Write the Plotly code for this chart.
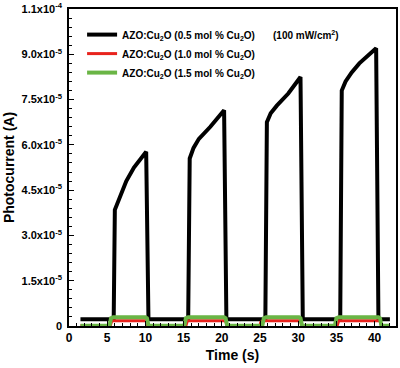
import plotly.graph_objects as go

# ---- data ----
t_05 = [1.5, 5.85, 6.0, 6.3, 6.8, 7.5, 8.5, 10.1, 10.4, 15.6, 15.8, 16.3, 17.0, 18.5, 20.3, 20.6,
        25.7, 25.9, 26.4, 27.2, 28.7, 30.3, 30.6, 35.5, 35.7, 36.2, 37.0, 38.0, 40.2, 40.5, 42.0]
i_05 = [0.22, 0.22, 3.85, 4.05, 4.35, 4.8, 5.25, 5.77, 0.22, 0.22, 5.55, 5.9, 6.2, 6.6, 7.15, 0.22,
        0.22, 6.75, 7.05, 7.3, 7.7, 8.25, 0.22, 0.22, 7.8, 8.1, 8.4, 8.7, 9.2, 0.22, 0.22]
i_05 = [v * 1e-5 for v in i_05]

t_10 = [1.5, 5.4, 5.6, 10.1, 10.3, 15.3, 15.5, 20.5, 20.7, 25.0, 25.1, 25.5, 30.3, 30.5, 35.1, 35.3,
        40.7, 40.9, 42.0]
i_10 = [0.1, 0.1, 1.7, 1.7, 0.1, 0.1, 1.7, 1.7, 0.1, 0.1, 1.2, 1.7, 1.7, 0.1, 0.1, 1.7,
        1.7, 0.1, 0.1]
i_10 = [v * 1e-6 for v in i_10]

t_15 = [1.5, 5.3, 5.5, 5.8, 10.0, 10.2, 10.4, 15.1, 15.3, 15.6, 20.3, 20.5, 20.7, 25.3, 25.5, 25.8,
        30.1, 30.3, 30.5, 34.8, 35.0, 35.3, 40.5, 40.7, 40.9, 42.0]
i_15 = [0.1, 0.1, 2.6, 2.9, 2.9, 2.6, 0.1, 0.1, 2.6, 2.9, 2.9, 2.6, 0.1, 0.1, 2.6, 2.9,
        2.9, 2.6, 0.1, 0.1, 2.6, 2.9, 2.9, 2.6, 0.1, 0.1]
i_15 = [v * 1e-6 for v in i_15]

y_tickvals = [0, 1.5e-5, 3.0e-5, 4.5e-5, 6.0e-5, 7.5e-5, 9.0e-5, 1.05e-4]
y_ticktext = ["0", "1.5x10<sup>-5</sup>", "3.0x10<sup>-5</sup>", "4.5x10<sup>-5</sup>",
              "6.0x10<sup>-5</sup>", "7.5x10<sup>-5</sup>", "9.0x10<sup>-5</sup>", "1.1x10<sup>-4</sup>"]
x_tickvals = [0, 5, 10, 15, 20, 25, 30, 35, 40]

names = ["AZO:Cu<sub>2</sub>O (0.5 mol % Cu<sub>2</sub>O)",
         "AZO:Cu<sub>2</sub>O (1.0 mol % Cu<sub>2</sub>O)",
         "AZO:Cu<sub>2</sub>O (1.5 mol % Cu<sub>2</sub>O)"]

FONT = "Arial, Liberation Sans, sans-serif"

fig = go.Figure()
fig.add_trace(go.Scatter(x=t_05, y=i_05, mode="lines", name=names[0],
                         line=dict(color="#000000", width=4)))
fig.add_trace(go.Scatter(x=t_10, y=i_10, mode="lines", name=names[1],
                         line=dict(color="#e8231d", width=3)))
fig.add_trace(go.Scatter(x=t_15, y=i_15, mode="lines", name=names[2],
                         line=dict(color="#6ab545", width=4)))

fig.add_annotation(x=31.0, y=9.64e-5, xref="x", yref="y", text="<b>(100 mW/cm<sup>2</sup>)</b>",
                   showarrow=False, font=dict(family=FONT, size=10, color="#000"))

fig.update_layout(
    width=400, height=368,
    margin=dict(l=69, r=4, t=9, b=42),
    paper_bgcolor="white", plot_bgcolor="white",
    font=dict(family=FONT, color="#000"),
    showlegend=True,
    legend=dict(x=0.04, y=0.965, xanchor="left", yanchor="top", bgcolor="rgba(0,0,0,0)",
                font=dict(family=FONT, size=10, color="#000", weight="bold"),
                itemwidth=30, tracegroupgap=0),
    xaxis=dict(range=[0, 42.8], tickmode="array", tickvals=x_tickvals, automargin=False,
               ticks="inside", ticklen=5, tickwidth=1, tickcolor="#000",
               minor=dict(tickmode="linear", tick0=0, dtick=1, ticks="inside", ticklen=3, tickcolor="#000"),
               showline=True, linecolor="#000", linewidth=1.5, mirror=True,
               showgrid=False, zeroline=False,
               tickfont=dict(family=FONT, size=12, weight="bold"),
               title=dict(text="Time (s)", font=dict(family=FONT, size=14, weight="bold"), standoff=6)),
    yaxis=dict(range=[0, 1.0501e-4], tickmode="array", tickvals=y_tickvals, ticktext=y_ticktext,
               automargin=False, ticklabeloverflow="allow",
               ticks="inside", ticklen=5, tickwidth=1, tickcolor="#000",
               minor=dict(tickmode="linear", tick0=0, dtick=3e-6, ticks="inside", ticklen=3, tickcolor="#000"),
               showline=True, linecolor="#000", linewidth=1.5, mirror=True,
               showgrid=False, zeroline=False,
               tickfont=dict(family=FONT, size=11, weight="bold"),
               ticklabelstandoff=3,
               title=dict(text="Photocurrent (A)", font=dict(family=FONT, size=14, weight="bold"), standoff=4)),
)

fig.write_html("out.html", config={"displayModeBar": False},
               post_script="document.body.style.margin='0';")
